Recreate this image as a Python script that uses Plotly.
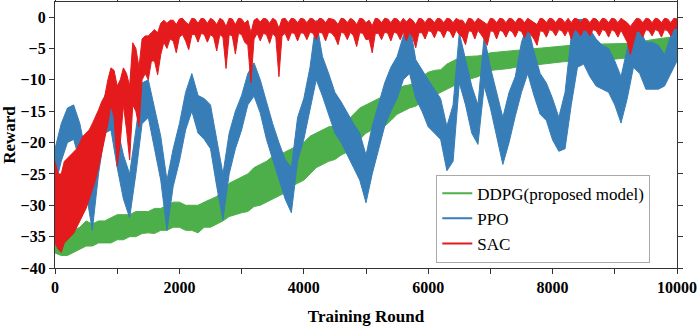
import plotly.graph_objects as go

# ---------------- data ----------------
# PPO and DDPG: upper / lower edge of the noisy band every 100 rounds
rounds_100 = list(range(0, 10001, 100))

ppo_hi = [-21, -17, -14.5, -14, -17, -22, -27, -19.5, -12.5, -12,
          -17.5, -22, -25, -18, -10.5, -10, -14.5, -19, -26, -21,
          -17, -12, -9, -12.5, -13, -14, -19.5, -25, -18.5, -15,
          -12.5, -9, -7.3, -10, -13.5, -17, -20, -22.7, -24, -16,
          -13, -8, -0.5, -6.3, -9, -12, -13.5, -15.3, -17, -18.5,
          -22, -17.4, -14, -10.5, -8, -6.3, -3, -1, -6.8, -8.5,
          -10, -11.5, -13, -17.4, -14, -2.5, -7, -11, -14, -3,
          -8, -12, -16, -12, -9.5, -4, -1.2, -5.5, -9, -10.5,
          -13, -16, -12, -3, -0.4, -0.4, -2, -3.5, -4.5, -5,
          -7, -9.5, -5, -1, -2, -4, -4, -4.5, -6, -3,
          -0.4]
ppo_lo = [-27, -23, -20, -19.5, -23, -28, -34, -25, -18.5, -18,
          -24, -29, -32, -25, -17, -16, -21, -26, -34, -27,
          -23, -18, -15, -18.5, -19.5, -21, -27, -32.3, -25, -21,
          -18, -14, -12.6, -15.3, -19.5, -22.7, -26, -29, -31.2, -23,
          -19.5, -15, -10, -12.6, -15.5, -18.5, -20, -22, -24, -26,
          -29.6, -25, -21, -17.4, -15, -13, -10, -9, -13, -15,
          -17.5, -18.5, -19.5, -24.5, -23, -10.5, -14, -18.5, -20.3, -11,
          -14.5, -19, -23.5, -20, -15.8, -12, -9, -12.5, -15.5, -16.5,
          -19.6, -21.4, -21, -14, -8, -7.5, -9.5, -11, -11.5, -12,
          -14, -16.9, -13, -8, -9, -11.5, -11.5, -11.5, -11, -9,
          -7]

ddpg_hi = [-35.5, -35, -34.5, -34, -33.5, -32.5, -33, -32.5, -32.5, -32,
           -31.5, -31.5, -31.5, -31, -31, -31, -30.5, -30.5, -30, -29.5,
           -29.5, -30, -30, -30, -29.5, -29, -28.6, -27.5, -26.5, -26,
           -25.5, -25, -24, -23.5, -23, -22.2, -22, -21.5, -21, -20.5,
           -20, -19, -18.5, -18, -17.5, -17.4, -17, -16.5, -15.5, -14.5,
           -14, -13.5, -13, -12.6, -12, -11.6, -11, -10.8, -10.5, -9.5,
           -8.8, -8.5, -8.4, -7.5, -7, -6.5, -6.3, -6.3, -6.2, -6,
           -5.7, -5.6, -5.5, -5.4, -5.3, -5.2, -5.1, -5, -4.9, -4.9,
           -4.8, -4.7, -4.6, -4.5, -4.5, -4.4, -4.4, -4.3, -4.3, -4.3,
           -4.2, -4.2, -4.2, -4.1, -4, -3.8, -3.6, -3.5, -3.3, -3.2,
           -3]
ddpg_lo = [-37.6, -38, -38, -37.5, -37, -36.5, -36.5, -36, -36, -36,
           -35.5, -35.5, -35, -35, -34.5, -34.4, -34.5, -34, -34, -33.5,
           -33.5, -34, -34, -34.4, -33.5, -33.5, -33, -32.5, -31.8, -31.5,
           -31.2, -31, -30.2, -30, -29.5, -29, -28.5, -28, -27, -26.5,
           -26, -25, -24, -23.5, -23, -22.7, -22, -21.5, -20.5, -19.5,
           -18.5, -18, -17.5, -17.4, -16.5, -15.5, -15, -14.5, -14.2, -13.5,
           -13, -12.5, -12, -11.5, -11, -10.5, -10, -9.8, -9.5, -9,
           -8.5, -8.4, -8.3, -8.2, -8, -7.9, -7.8, -7.6, -7.5, -7.4,
           -7.3, -7.2, -7.1, -7, -7, -6.9, -6.9, -6.8, -6.8, -6.8,
           -6.7, -6.6, -6.6, -6.5, -6.4, -6.3, -6.2, -6, -5.9, -5.8,
           -5.7]

# SAC: upper / lower edge every 50 rounds (finer, to keep its scalloped dips)
rounds_50 = list(range(0, 10001, 50))

sac_hi = [-23, -25, -25, -23, -22.5, -22, -21.5, -21, -20, -19,
          -18.5, -18, -17, -16, -14.8, -13.5, -12.6, -10, -8.1, -8.5,
          -11, -10, -8.1, -9, -11, -4.1, -5, -8, -3.5, -3,
          -3, -2.5, -2, -2.5, -1, -0.5, -1, -0.5, -0.5, -1.2,
          -0.3, -0.2, -0.8, -1.2, -0.2, -0.3, -1, -0.2, -0.3, -1,
          -0.2, -0.5, -1.2, -0.2, -0.5, -1.5, -0.2, -0.3, -1.2, -0.2,
          -0.3, -1, -0.5, -2.5, -0.5, -0.2, -0.8, -0.2, -0.3, -1,
          -0.2, -0.5, -1.8, -0.3, -0.2, -0.9, -0.2, -0.3, -0.9, -0.2,
          -0.3, -0.9, -0.2, -0.3, -0.9, -0.2, -0.3, -0.9, -0.2, -0.3,
          -0.5, -1.2, -0.2, -0.3, -0.9, -0.2, -0.5, -1.2, -0.2, -0.3,
          -0.9, -0.5, -1.4, -0.2, -0.3, -0.9, -0.2, -0.3, -0.9, -0.2,
          -0.3, -0.9, -0.2, -0.8, -0.2, -0.5, -1.2, -0.2, -0.3, -0.9,
          -0.2, -0.3, -0.9, -0.2, -0.3, -0.9, -0.2, -0.3, -0.9, -0.2,
          -0.5, -0.5, -1.2, -0.2, -0.3, -0.9, -0.2, -0.5, -0.8, -1.2,
          -0.2, -0.3, -0.9, -0.2, -0.3, -0.9, -0.2, -0.3, -0.9, -0.2,
          -0.3, -0.9, -0.2, -0.5, -0.8, -1.2, -0.2, -0.3, -0.9, -0.2,
          -0.3, -0.9, -0.2, -0.3, -0.9, -0.2, -0.9, -0.2, -0.3, -0.9,
          -0.2, -0.3, -0.9, -0.2, -0.3, -0.9, -0.2, -0.3, -0.9, -0.2,
          -0.3, -0.9, -0.2, -0.5, -0.9, -1.5, -0.9, -0.2, -0.3, -0.9,
          -0.2, -0.3, -0.9, -0.2, -0.3, -0.9, -0.2, -0.3, -0.9, -0.2,
          -0.3]
sac_lo = [-36, -37, -37.5, -36, -35.5, -35, -34.5, -33.5, -32.5, -31.5,
          -30.5, -29, -27.5, -26, -24, -22, -19.5, -17, -14, -16,
          -23.8, -20, -14, -18, -22.8, -14, -15, -17.5, -10, -9,
          -10, -7, -7, -9.2, -6, -4, -5, -3.5, -3.8, -5.7,
          -3.2, -2.8, -3.8, -5.2, -2.8, -2.8, -4, -2.6, -2.8, -4,
          -2.8, -3.2, -5.4, -2.8, -3.2, -8.2, -2.8, -3, -5.9, -2.6,
          -2.8, -4, -4.5, -10.5, -3.5, -2.6, -3.8, -2.6, -2.8, -4.2,
          -2.6, -3.2, -9.5, -3, -2.6, -3.8, -2.5, -2.6, -3.8, -2.5,
          -2.6, -3.6, -2.4, -2.6, -3.6, -2.4, -2.6, -3.8, -2.4, -2.6,
          -3.2, -4.4, -2.4, -2.6, -3.6, -2.4, -3, -4.7, -2.5, -2.6,
          -3.6, -3.5, -5.7, -2.6, -2.6, -3.6, -2.4, -2.6, -3.8, -2.4,
          -2.6, -3.6, -2.4, -3.8, -2.4, -3.2, -4.9, -2.5, -2.5, -3.5,
          -2.2, -2.3, -3.3, -2.1, -2.3, -3.3, -2.1, -2.3, -3.3, -2.1,
          -2.8, -3.2, -4.4, -2.2, -2.3, -3.5, -2.1, -2.8, -3.5, -4.5,
          -2.2, -2.3, -3.5, -2.1, -2.3, -3.2, -2.1, -2.3, -3.2, -2.1,
          -2.3, -3.3, -2.1, -2.8, -3.5, -4.5, -2.2, -2.3, -3.2, -2.0,
          -2.2, -3.0, -2.0, -2.2, -3.0, -2.0, -3.5, -2.0, -2.2, -3.0,
          -2.0, -2.2, -3.0, -2.0, -2.2, -3.0, -2.0, -2.2, -3.2, -2.0,
          -2.3, -3.2, -2.1, -3.0, -4.0, -6.0, -4.2, -2.2, -2.3, -3.2,
          -2.0, -2.2, -3.0, -2.0, -2.2, -3.2, -2.0, -2.2, -3.0, -1.8,
          -1.8]

series_names = ["DDPG(proposed model)", "PPO", "SAC"]
series_colors = ["#4daf4a", "#377eb8", "#e41a1c"]

x_ticks = [0, 2000, 4000, 6000, 8000, 10000]
x_tick_labels = ["0", "2000", "4000", "6000", "8000", "10000"]
y_ticks = [-40, -35, -30, -25, -20, -15, -10, -5, 0]

assert len(ppo_hi) == len(ppo_lo) == len(rounds_100)
assert len(ddpg_hi) == len(ddpg_lo) == len(rounds_100)
assert len(sac_hi) == len(sac_lo) == len(rounds_50)

# ---------------- figure ----------------
fig = go.Figure()

bands = [
    (rounds_100, ddpg_hi, ddpg_lo),
    (rounds_100, ppo_hi, ppo_lo),
    (rounds_50, sac_hi, sac_lo),
]

for (xs, hi, lo), name, col in zip(bands, series_names, series_colors):
    fig.add_trace(go.Scatter(
        x=list(xs) + list(xs)[::-1],
        y=list(hi) + list(lo)[::-1],
        mode="lines", fill="toself", fillcolor=col,
        line=dict(color=col, width=1),
        hoverinfo="skip", showlegend=False,
    ))

# legend entries (line samples)
for name, col in zip(series_names, series_colors):
    fig.add_trace(go.Scatter(
        x=[None], y=[None], mode="lines", name=name,
        line=dict(color=col, width=2),
    ))

axis_common = dict(
    showline=True, linecolor="#333333", linewidth=1.2, mirror="ticks",
    ticks="outside", ticklen=5, tickwidth=1.2, tickcolor="#333333",
    showgrid=False, zeroline=False, automargin=False,
    tickfont=dict(family="Liberation Serif", size=16, color="black", weight="bold"),
)

fig.update_xaxes(
    range=[0, 10000], tickvals=x_ticks, ticktext=x_tick_labels,
    minor=dict(dtick=1000, tick0=0, ticks="outside", ticklen=5,
               tickwidth=1.2, tickcolor="#333333", showgrid=False),
    title=dict(text="Training Round", standoff=14,
               font=dict(family="Liberation Serif", size=17, color="black", weight="bold")),
    **axis_common,
)
fig.update_yaxes(
    range=[-40, 2.4], tickvals=y_ticks,
    title=dict(text="Reward", standoff=6,
               font=dict(family="Liberation Serif", size=17, color="black", weight="bold")),
    **axis_common,
)

fig.update_layout(
    width=699, height=328,
    margin=dict(l=55, r=22, t=2, b=60, autoexpand=False),
    paper_bgcolor="white", plot_bgcolor="white",
    legend=dict(
        x=0.613, y=0.02, xanchor="left", yanchor="bottom",
        bgcolor="white", bordercolor="#aaaaaa", borderwidth=1,
        font=dict(family="Liberation Serif", size=17, color="black"),
        tracegroupgap=0, itemwidth=30,
    ),
)

fig.write_html("out.html", config={"displayModeBar": False},
               post_script="document.body.style.margin='0';")
